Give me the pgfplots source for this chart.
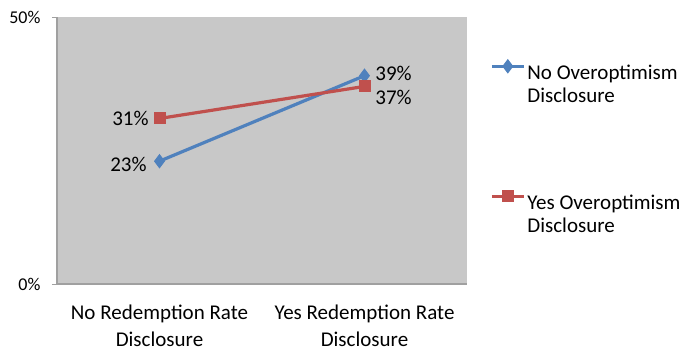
\documentclass[border=0pt]{standalone}
\usepackage{pgfplots}
\pgfplotsset{compat=1.18}
\usepackage{fontspec}
\setmainfont{Carlito}
\definecolor{sblue}{RGB}{79,129,189}
\definecolor{sred}{RGB}{192,80,77}
\definecolor{bg}{RGB}{200,200,200}
\definecolor{axc}{RGB}{160,160,160}
\newcommand{\lab}{\fontsize{21bp}{25bp}\selectfont}
\begin{document}
\begin{tikzpicture}
\path[use as bounding box] (-57bp,-66bp) rectangle (629bp,284bp);
\begin{axis}[
  at={(0,0)}, anchor=south west,
  width=410bp, height=267bp, scale only axis,
  xmin=-0.5, xmax=1.5, ymin=0, ymax=0.5,
  axis background/.style={fill=bg},
  axis x line*=bottom, axis y line*=left,
  axis line style={axc, line width=1.2pt, -},
  xtick={0,1},
  xticklabels={{No Redemption Rate\\Disclosure},{Yes Redemption Rate\\Disclosure}},
  xticklabel style={align=center, font=\fontsize{21bp}{27bp}\selectfont, yshift=-12bp},
  major x tick style={draw=none},
  ytick={0,0.5}, yticklabels={0\%,50\%},
  yticklabel style={font=\fontsize{18bp}{20bp}\selectfont, xshift=-8bp},
  major y tick style={axc, line width=1pt},
  tick align=outside, major tick length=5bp,
  clip=false,
  legend style={at={(axis description cs:1.0488,0.848)}, anchor=north west,
    draw=none, fill=none, row sep=107bp,
    nodes={font=\lab, inner sep=2bp}},
  legend cell align=left,
  legend image code/.code={\draw[mark repeat=2,mark phase=2] plot coordinates {(0bp,5bp) (16bp,5bp) (32bp,5bp)};},
]
\addplot[sblue, line width=3.2bp, mark=diamond*, mark size=6.5bp, mark options={solid, line width=1bp}]
  coordinates {(0,0.23) (1,0.39)}
  node[pos=0, anchor=east, xshift=-8bp, yshift=-3bp, black, font=\lab]{23\%}
  node[pos=1, anchor=west, xshift=6bp, yshift=2bp, black, font=\lab]{39\%};
\addlegendentry{\begin{tabular}[t]{@{}l@{}}No Overoptimism\\[-2bp]Disclosure\end{tabular}}
\addplot[sred, line width=3.2bp, mark=square*, mark size=5.5bp, mark options={solid, line width=1bp}]
  coordinates {(0,0.31) (1,0.37)}
  node[pos=0, anchor=east, xshift=-6bp, black, font=\lab]{31\%}
  node[pos=1, anchor=west, xshift=6bp, yshift=-11bp, black, font=\lab]{37\%};
\addlegendentry{\begin{tabular}[t]{@{}l@{}}Yes Overoptimism\\[-2bp]Disclosure\end{tabular}}
\end{axis}
\end{tikzpicture}
\end{document}
